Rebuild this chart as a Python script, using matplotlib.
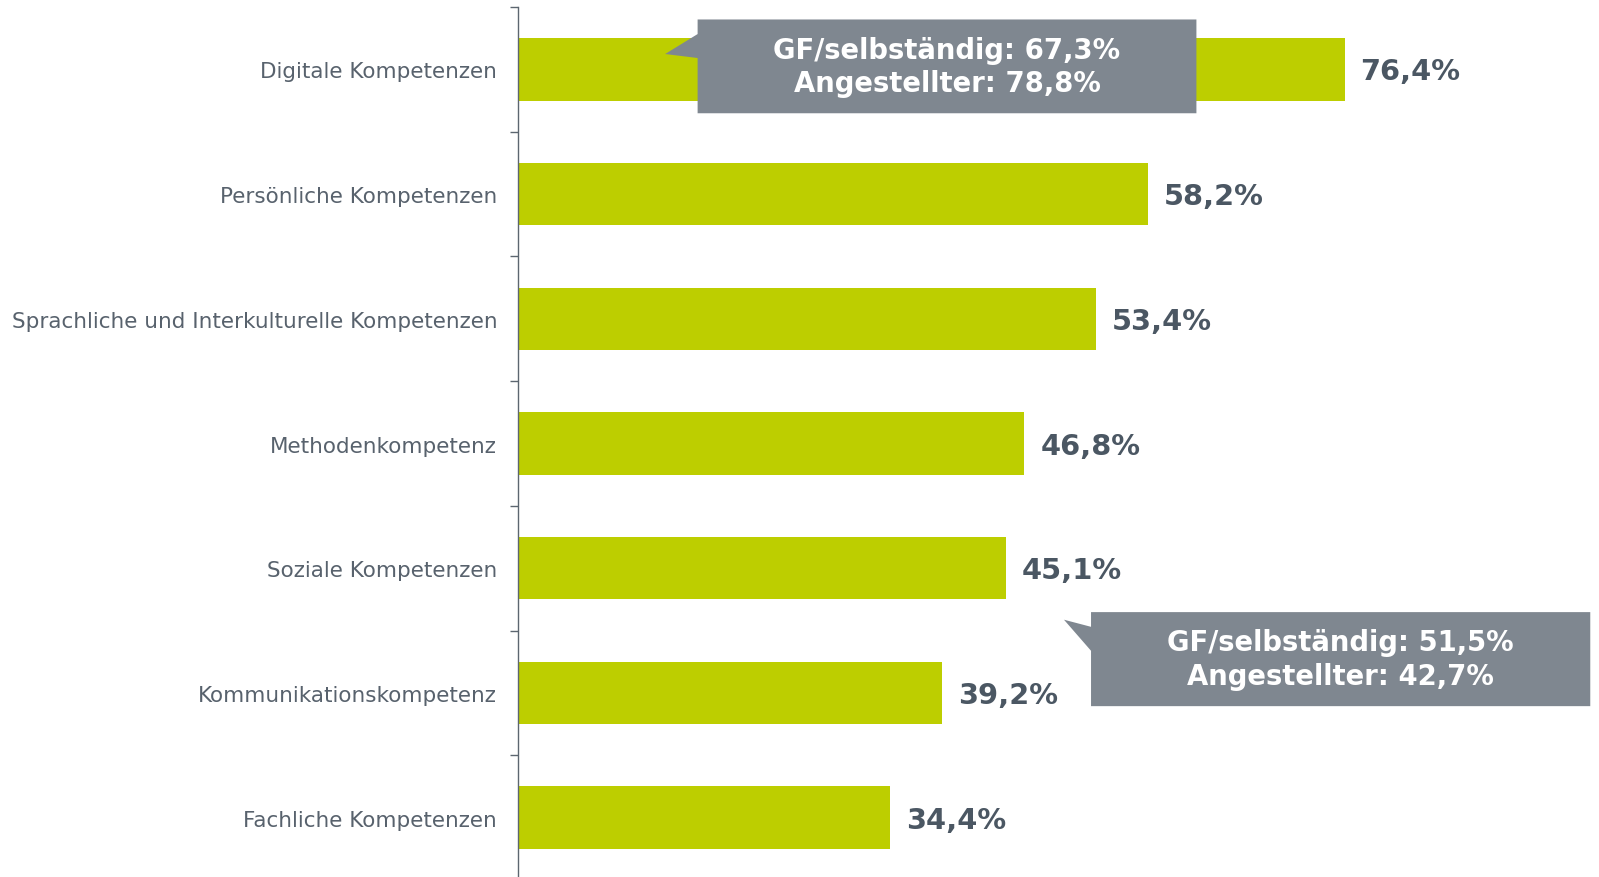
import matplotlib
matplotlib.use("Agg")
import matplotlib.pyplot as plt
from matplotlib.patches import Polygon
from matplotlib.ticker import FixedLocator

categories = [
    "Digitale Kompetenzen",
    "Persönliche Kompetenzen",
    "Sprachliche und Interkulturelle Kompetenzen",
    "Methodenkompetenz",
    "Soziale Kompetenzen",
    "Kommunikationskompetenz",
    "Fachliche Kompetenzen",
]
values = [76.4, 58.2, 53.4, 46.8, 45.1, 39.2, 34.4]
callout_texts = [
    "GF/selbständig: 67,3%\nAngestellter: 78,8%",
    "GF/selbständig: 51,5%\nAngestellter: 42,7%",
]

BAR = "#bdce00"
LABEL = "#58626d"
VALUE = "#4b5763"
BOX = "#7f8790"
AXIS = "#5c6670"

fig = plt.figure(figsize=(15.99, 8.78), dpi=100)
ax = fig.add_axes([518 / 1599, -3 / 878, 1082 / 1599, 873 / 878])

n = len(categories)
ypos = list(range(n))
ax.barh(ypos, values, height=0.5, color=BAR, zorder=2)
ax.set_xlim(0, 100)
ax.set_ylim(n - 0.5, -0.5)

for s in ["top", "right", "bottom"]:
    ax.spines[s].set_visible(False)
ax.spines["left"].set_color(AXIS)
ax.spines["left"].set_linewidth(1.0)
ax.set_xticks([])
ax.set_yticks(ypos)
ax.set_yticklabels(categories, fontsize=15.5, color=LABEL)
ax.tick_params(axis="y", which="major", length=0, pad=15)
ax.yaxis.set_minor_locator(FixedLocator([i - 0.5 for i in range(n + 1)]))
ax.tick_params(axis="y", which="minor", length=6, width=1.0, color=AXIS)

for i, v in enumerate(values):
    ax.annotate(f"{v:.1f}".replace(".", ",") + "%", xy=(v, i), xytext=(11.5, -1.5),
                textcoords="offset points", ha="left", va="center",
                fontsize=20.8, fontweight="bold", color=VALUE, zorder=3)

# callouts: (x0, x1, y0, y1, tip_x, tip_y, base_y0, base_y1)
callouts = [
    (16.6, 62.7, -0.40, 0.352, 13.6, -0.123, -0.283, -0.091),
    (52.96, 99.1, 4.352, 5.106, 50.46, 4.413, 4.470, 4.662),
]
for (x0, x1, y0, y1, tx, ty, b0, b1), txt in zip(callouts, callout_texts):
    poly = Polygon([(x0, y0), (x1, y0), (x1, y1), (x0, y1), (x0, b1), (tx, ty), (x0, b0)],
                   closed=True, facecolor=BOX, edgecolor="none", zorder=4)
    ax.add_patch(poly)
    ax.text((x0 + x1) / 2, (y0 + y1) / 2, txt, ha="center", va="center",
            fontsize=19.8, fontweight="bold", color="white", linespacing=1.25, zorder=5)

fig.savefig("out.png", dpi=100)
